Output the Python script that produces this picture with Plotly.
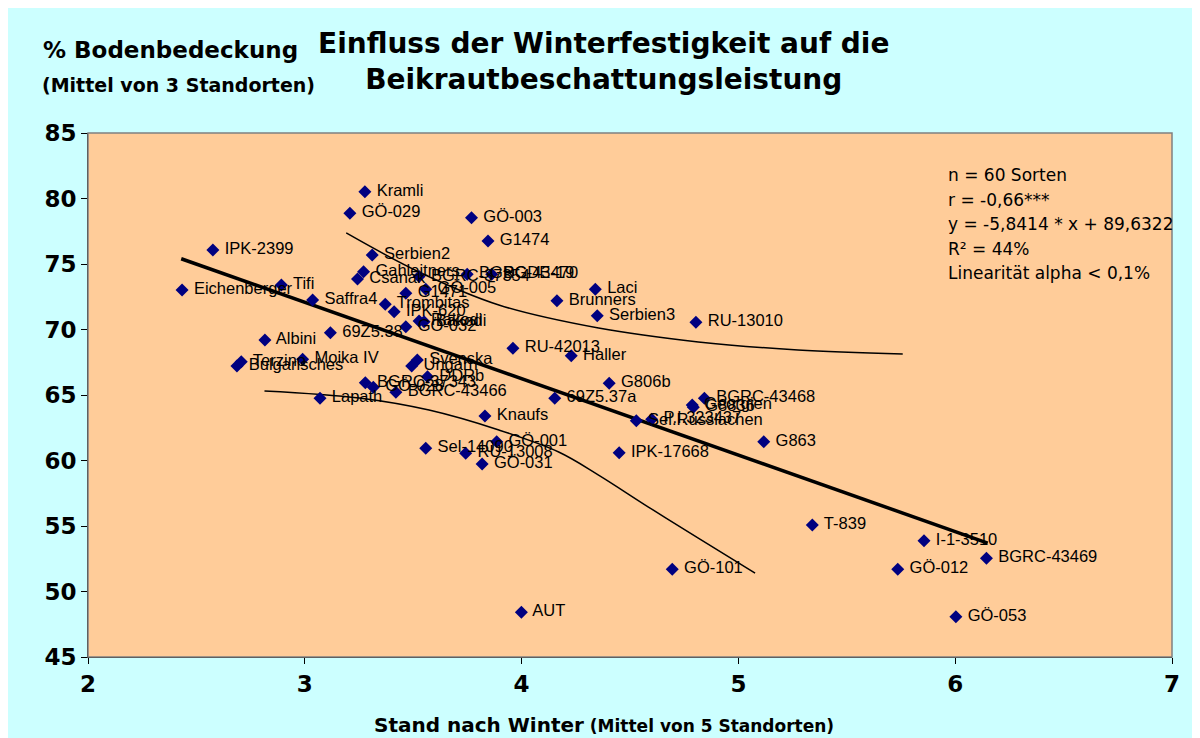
import plotly.graph_objects as go

# ---- data ----
names = ["Kramli", "GÖ-029", "GÖ-003", "G1474", "Serbien2", "Gahleitners", "Csanak",
         "BGRC-37354", "BGRC-43470", "BGDE-19", "IPK-2399", "Tifi", "Eichenberger",
         "Saffra4", "Trombitas", "IPK-620", "G1471", "GÖ-005", "GÖ-032", "Rakodi",
         "Bakodi", "69Z5.38", "Albini", "Terzino", "Bulgarisches", "Moika IV",
         "Svenska", "Ungarn", "DDRb", "BGRC-37343", "GÖ-028", "BGRC-43466", "Lapath",
         "Knaufs", "GÖ-001", "Sel-14090", "RU-13008", "GÖ-031", "AUT", "RU-42013",
         "Haller", "Laci", "Brunners", "Serbien3", "RU-13010", "G806b", "69Z5.37a",
         "Sel.Russlachen", "P.I.323437", "BGRC-43468", "Georgien", "G8836",
         "IPK-17668", "G863", "T-839", "I-1-3510", "BGRC-43469", "GÖ-012", "GÖ-053",
         "GÖ-101"]
x_vals = [3.277, 3.208, 3.769, 3.845, 3.311, 3.271, 3.243,
          3.527, 3.749, 3.862, 2.576, 2.892, 2.434,
          3.036, 3.371, 3.412, 3.466, 3.558, 3.466, 3.527,
          3.550, 3.118, 2.816, 2.707, 2.687, 2.990,
          3.519, 3.493, 3.566, 3.279, 3.316, 3.420, 3.070,
          3.831, 3.885, 3.558, 3.742, 3.818, 3.999, 3.960,
          4.229, 4.340, 4.163, 4.349, 4.804, 4.404, 4.153,
          4.529, 4.600, 4.843, 4.787, 4.792,
          4.450, 5.117, 5.341, 5.856, 6.144, 5.735, 6.003,
          4.695]
y_vals = [80.52, 78.87, 78.54, 76.76, 75.69, 74.41, 73.85,
          74.05, 74.21, 74.21, 76.07, 73.40, 73.02,
          72.25, 71.92, 71.36, 72.76, 73.07, 70.21, 70.65,
          70.60, 69.76, 69.20, 67.54, 67.21, 67.73,
          67.67, 67.21, 66.40, 65.94, 65.59, 65.21, 64.75,
          63.40, 61.44, 60.93, 60.55, 59.73, 48.41, 68.56,
          68.00, 73.07, 72.20, 71.05, 70.55, 65.89, 64.75,
          63.04, 63.14, 64.75, 64.24, 64.07,
          60.60, 61.44, 55.08, 53.88, 52.53, 51.69, 48.08,
          51.69]

reg_x = [2.43, 6.15]
reg_y = [75.4, 53.7]

upper_x = [3.191, 3.527, 3.895, 4.355, 4.815, 5.275, 5.758]
upper_y = [77.37, 74.39, 71.87, 70.11, 69.05, 68.44, 68.13]
lower_x = [2.814, 3.251, 3.573, 3.895, 4.171, 4.355, 4.585, 4.815, 5.077]
lower_y = [65.31, 64.77, 63.85, 62.33, 60.65, 58.89, 56.45, 54.08, 51.41]

x_ticks = [2, 3, 4, 5, 6, 7]
y_ticks = [45, 50, 55, 60, 65, 70, 75, 80, 85]

stats_lines = ["n = 60 Sorten", "r = -0,66***", "y = -5,8414 * x + 89,6322",
               "R² = 44%", "Linearität alpha < 0,1%"]

FONT = "DejaVu Sans, Arial, sans-serif"
LABEL_FONT = "Arial, Liberation Sans, sans-serif"

fig = go.Figure()

fig.add_trace(go.Scatter(x=upper_x, y=upper_y, mode="lines",
                         line=dict(color="black", width=1.5, shape="spline"),
                         hoverinfo="skip", showlegend=False))
fig.add_trace(go.Scatter(x=lower_x, y=lower_y, mode="lines",
                         line=dict(color="black", width=1.5, shape="spline"),
                         hoverinfo="skip", showlegend=False))
fig.add_trace(go.Scatter(x=reg_x, y=reg_y, mode="lines", line=dict(color="black", width=3.5),
                         hoverinfo="skip", showlegend=False))
fig.add_trace(go.Scatter(x=x_vals, y=y_vals, mode="markers+text",
                         text=[" " + n for n in names],
                         textposition="middle right",
                         textfont=dict(family=LABEL_FONT, size=16.5, color="black"),
                         marker=dict(symbol="diamond", size=10, color="#000080"),
                         showlegend=False))

fig.update_xaxes(range=[2, 7], tickvals=x_ticks, ticks="outside", ticklen=6, tickcolor="black",
                 showline=True, linecolor="black", linewidth=1, showgrid=False, zeroline=False,
                 tickfont=dict(family=FONT, size=23, color="black", weight="bold"))
fig.update_yaxes(range=[45, 85], tickvals=y_ticks, ticks="outside", ticklen=6, tickcolor="black",
                 showline=True, linecolor="black", linewidth=1, showgrid=False, zeroline=False,
                 tickfont=dict(family=FONT, size=23, color="black", weight="bold"))

annotations = [
    dict(text="<b>Einfluss der Winterfestigkeit auf die<br>Beikrautbeschattungsleistung</b>",
         xref="paper", yref="paper", x=0.4756, y=1.0, yshift=72, xanchor="center", yanchor="middle",
         showarrow=False, font=dict(family=FONT, size=28, color="black"), align="center"),
    dict(text="<b>% Bodenbedeckung</b>", xref="paper", yref="paper", x=-0.0433, y=1.0, yshift=83,
         xanchor="left", yanchor="middle", showarrow=False,
         font=dict(family=FONT, size=23, color="black")),
    dict(text="<b>(Mittel von 3 Standorten)</b>", xref="paper", yref="paper", x=-0.0442, y=1.0,
         yshift=48, xanchor="left", yanchor="middle", showarrow=False,
         font=dict(family=FONT, size=19, color="black")),
    dict(text="<b><span style='font-size:20px'>Stand nach Winter</span> (Mittel von 5 Standorten)</b>",
         xref="paper", yref="paper", x=0.4756, y=0, yshift=-68, xanchor="center", yanchor="middle",
         showarrow=False, font=dict(family=FONT, size=17, color="black")),
]
for i, line in enumerate(stats_lines):
    annotations.append(dict(text=line, xref="paper", yref="paper", x=0.7912, y=1.0,
                            yshift=-(42 + 24.6 * i), xanchor="left", yanchor="middle",
                            showarrow=False, font=dict(family=FONT, size=17, color="black")))

fig.update_layout(
    width=1184, height=730,
    margin=dict(l=80, r=17, t=125, b=81),
    paper_bgcolor="#CCFFFF", plot_bgcolor="#FFCC99",
    annotations=annotations,
    shapes=[
        dict(type="rect", xref="paper", yref="paper", x0=0, x1=1, y0=0, y1=1,
             line=dict(color="#808080", width=1.5), layer="above"),
    ],
)

fig.write_html("out.html")
